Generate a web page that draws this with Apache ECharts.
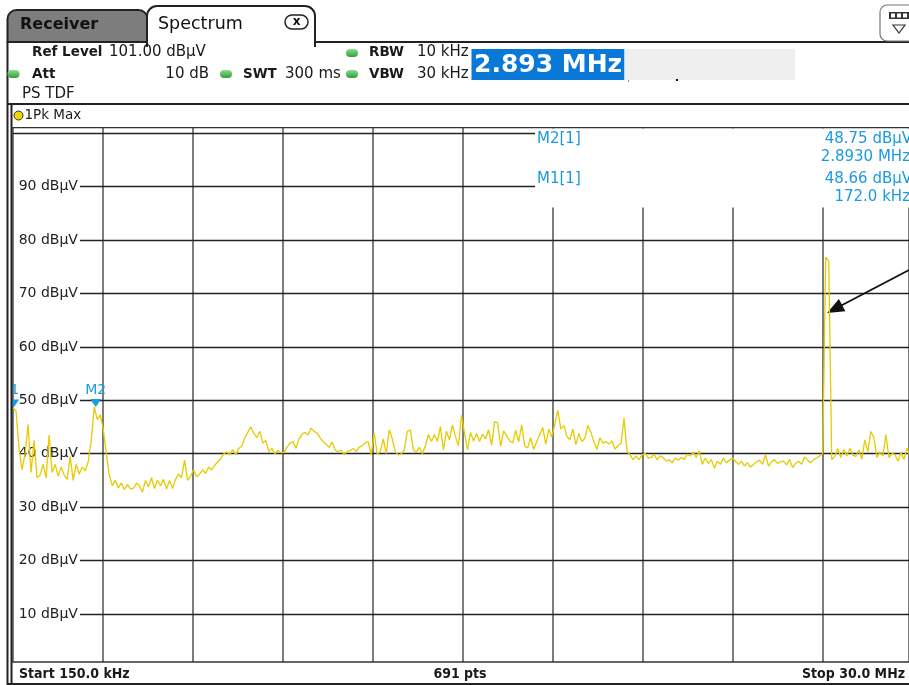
<!DOCTYPE html>
<html>
<head>
<meta charset="utf-8">
<script src="https://cdn.jsdelivr.net/npm/echarts@6/dist/echarts.min.js"></script>
<style>
  html, body { margin: 0; padding: 0; background: #fff; }
  #chart { width: 909px; height: 685px; }
</style>
</head>
<body>
<div id="chart"></div>
<script>
// sweep: 150 kHz .. 30 MHz, trace (dBµV)
const startMHz = 0.15;
const stopMHz = 30.0;
const levels = [
  48.6, 48.0, 41, 37, 40, 45.5, 36.5, 42.5, 35.5, 36,
  38, 35.5, 43.5, 36.5, 38, 35.8, 37.5, 36, 35.2, 39.5,
  35, 38, 36.2, 37.5, 36.8, 38.5, 42.5, 48.75, 46.4, 47.3,
  44.5, 40, 36, 34, 35, 33.6, 34.5, 33.3, 34.2, 33.4,
  33.5, 34.5, 34, 32.8, 35, 33.8, 35.5, 33.5, 35, 34,
  35.2, 33.4, 35, 33.5, 35.2, 36.2, 35.5, 38.8, 35, 35.8,
  37, 35.7, 36.2, 37, 36.3, 37.5, 37, 37.8, 38.5, 39,
  40, 40.3, 39.8, 40.8, 39.8, 41, 41.4, 43, 44, 45,
  43.8, 43, 44.2, 42, 42.5, 40.4, 41, 40, 40.6, 40.2,
  40.2, 41.2, 42, 42.3, 41, 42.8, 43.6, 44, 43.5, 44.8,
  44.2, 43.9, 43, 42.3, 41.8, 41.2, 42.2, 40.7, 40.4, 40.7,
  39.8, 40.4, 40.6, 41, 40.4, 41.2, 41.5, 42, 42.3, 39.8,
  43.9, 40, 40.3, 42.8, 40, 44.5, 42.8, 40.3, 39.8, 40,
  40.7, 44.2, 44.5, 40.7, 40.3, 41.2, 40, 41.5, 43.6, 42.3,
  43.6, 42.3, 45.1, 40.7, 44.2, 42.6, 45.4, 43.2, 41.5, 47.2,
  43.9, 40.7, 44, 42.4, 43.8, 42.3, 43.7, 42.8, 44.5, 41.6,
  46, 45.8, 41.4, 44.3, 43.4, 42.4, 42, 44.4, 42.2, 45.4,
  41.4, 41.1, 43, 40.8, 42.3, 43.6, 44.9, 41.8, 44.6, 43.1,
  45.5, 48.1, 44.6, 45.3, 43.3, 42.6, 44.6, 41.7, 43.8, 42.3,
  42.9, 45.3, 44, 42.2, 40.8, 43, 42, 42.3, 41.8, 42.4,
  40.9, 41.5, 41.9, 46.7, 40.4, 39.8, 38.9, 39.6, 38.9, 39.8,
  40.1, 39.2, 39.3, 39.9, 38.9, 39.6, 39.3, 38.6, 38.9, 38.3,
  39.2, 38.8, 39.3, 38.9, 39.9, 39.6, 40.3, 39.3, 40.6, 38,
  39.2, 38.2, 38.9, 37.3, 38.6, 38, 39.2, 38.3, 38.8, 39.2,
  38.6, 38, 38.6, 37.7, 38.3, 37.5, 38, 38.5, 38.8, 38,
  39.8, 37.7, 38.5, 38.9, 38.2, 38.5, 38.6, 37.9, 38.9, 37.4,
  38.2, 38.6, 38, 39.4, 38.8, 38.3, 38.9, 39.2, 39.6, 40,
  76.8, 76.1, 38.9, 39.5, 41, 39.3, 40.8, 39.6, 41, 39.8,
  39.5, 40.7, 39, 42.6, 40.4, 44.2, 43, 39.3, 40.3, 39.6,
  43.6, 39.3, 40, 39.9, 38.6, 40.2, 38.9, 41.1, 39.5, 39.8
];
const gridLevels = [100, 90, 80, 70, 60, 50, 40, 30, 20, 10];
const markers = [
  { name: 'M1', freq: 0.172, level: 48.66 },
  { name: 'M2', freq: 2.893, level: 48.75 }
];
const markerTable = [
  ['M2[1]', '48.75 dBµV', '2.8930 MHz'],
  ['M1[1]', '48.66 dBµV', '172.0 kHz']
];

const step = (stopMHz - startMHz) / (levels.length - 1);
const trace = levels.map((v, i) => [startMHz + i * step, v]);
const division = (stopMHz - startMHz) / 10;
// the screenshot is cropped a few pixels before the 30 MHz edge (896 of 900 px)
const visibleStop = startMHz + (stopMHz - startMHz) * 896 / 900;

const FONT = '"DejaVu Sans", Verdana, sans-serif';
const NARROW = '"DejaVu Sans Condensed", "Liberation Sans Narrow", sans-serif';
const BLUE = '#1a9be0';
const labelEnd = 2.37; // gridline starts right after its label

const chart = echarts.init(document.getElementById('chart'));

function txt(x, y, text, opt) {
  opt = opt || {};
  return {
    type: 'text', x: x, y: y, z: 80,
    style: {
      text: text,
      font: (opt.weight || 'normal') + ' ' + (opt.size || 15) + 'px ' + (opt.family || FONT),
      fill: opt.color || '#1a1a1a',
      textAlign: opt.align || 'left',
      textVerticalAlign: 'middle'
    }
  };
}
function hline(x1, x2, y, w, c) {
  return { type: 'line', z: 70, shape: { x1: x1, y1: y, x2: x2, y2: y }, style: { stroke: c || '#222', lineWidth: w || 2 } };
}
function vline(x, y1, y2, w, c) {
  return { type: 'line', z: 70, shape: { x1: x, y1: y1, x2: x, y2: y2 }, style: { stroke: c || '#222', lineWidth: w || 2 } };
}
function led(x, y) {
  return {
    type: 'rect', z: 80, shape: { x: x - 6, y: y - 4, width: 12, height: 8, r: 4 },
    style: { fill: new echarts.graphic.LinearGradient(0, 0, 0, 1, [
      { offset: 0, color: '#8fdc8f' }, { offset: 1, color: '#2e9e3a' }]) }
  };
}

const graphics = [
  // cover behind marker table and left margin
  { type: 'rect', z: 50, shape: { x: 535, y: 128.6, width: 380, height: 79 }, style: { fill: '#fff' } },
  { type: 'rect', z: 50, shape: { x: 0, y: 105, width: 11, height: 580 }, style: { fill: '#fff' } },

  // tabs
  { type: 'rect', z: 60, shape: { x: 7.5, y: 10, width: 140, height: 32, r: [9, 9, 0, 0] },
    style: { fill: '#7d7d7d', stroke: '#222', lineWidth: 2 } },
  { type: 'rect', z: 61, shape: { x: 147, y: 6, width: 168, height: 40, r: [10, 10, 0, 0] },
    style: { fill: '#fff', stroke: '#222', lineWidth: 2 } },
  { type: 'rect', z: 62, shape: { x: 148, y: 41, width: 166, height: 8 }, style: { fill: '#fff' } },
  hline(314, 909, 42, 2),
  txt(20, 25, 'Receiver', { weight: 'bold', size: 16, color: '#111' }),
  txt(158, 24, 'Spectrum', { size: 17.5, color: '#111' }),
  { type: 'rect', z: 80, shape: { x: 285, y: 15, width: 23, height: 14, r: 7 },
    style: { fill: '#fff', stroke: '#222', lineWidth: 1.5 } },
  txt(296.5, 21.5, 'x', { weight: 'bold', size: 12, align: 'center', color: '#111' }),

  // top-right softkey icon
  { type: 'rect', z: 80, shape: { x: 880, y: 5, width: 36, height: 36, r: 7 },
    style: { fill: '#fff', stroke: '#777', lineWidth: 1.2 } },
  { type: 'rect', z: 81, shape: { x: 889, y: 12, width: 22, height: 7 }, style: { fill: '#333' } },
  { type: 'rect', z: 82, shape: { x: 891, y: 13.5, width: 4, height: 4 }, style: { fill: '#fff' } },
  { type: 'rect', z: 82, shape: { x: 897, y: 13.5, width: 4, height: 4 }, style: { fill: '#fff' } },
  { type: 'rect', z: 82, shape: { x: 903, y: 13.5, width: 4, height: 4 }, style: { fill: '#fff' } },
  { type: 'polygon', z: 81, shape: { points: [[893, 25], [905, 25], [899, 33]] },
    style: { fill: '#fff', stroke: '#333', lineWidth: 1.2 } },

  // header
  txt(32, 52, 'Ref Level', { weight: 'bold', size: 13.5 }),
  txt(109, 52, '101.00 dBµV'),
  led(352, 53), txt(369, 52, 'RBW', { weight: 'bold', size: 13.5 }), txt(417, 52, '10 kHz'),
  led(13.5, 74), txt(32, 74, 'Att', { weight: 'bold', size: 13.5 }),
  txt(209, 74, '10 dB', { align: 'right' }),
  led(226, 74), txt(243, 74, 'SWT', { weight: 'bold', size: 13.5 }), txt(285, 74, '300 ms'),
  led(352, 74), txt(369, 74, 'VBW', { weight: 'bold', size: 13.5 }), txt(417, 74, '30 kHz'),
  txt(22, 94, 'PS TDF'),
  { type: 'rect', z: 80, shape: { x: 471.5, y: 49, width: 153, height: 31 }, style: { fill: '#0a78d7' } },
  { type: 'rect', z: 80, shape: { x: 624.5, y: 49, width: 170.5, height: 31 }, style: { fill: '#efefef' } },
  txt(474, 65, '2.893 MHz', { weight: 'bold', size: 25, color: '#fff' }),
  { type: 'rect', z: 80, shape: { x: 628, y: 80, width: 1, height: 2 }, style: { fill: '#888' } },
  { type: 'rect', z: 80, shape: { x: 676, y: 79, width: 2, height: 2 }, style: { fill: '#111' } },

  // frame lines
  hline(7, 909, 104, 2),
  vline(7.5, 42, 685, 2),
  vline(11.5, 104, 685, 2),
  hline(11, 909, 127.6, 1.3, '#333'),
  hline(11, 909, 662, 1.5, '#333'),
  hline(7, 909, 684, 2),

  // trace label row
  { type: 'circle', z: 80, shape: { cx: 18.5, cy: 115.5, r: 4.5 }, style: { fill: '#f2d600', stroke: '#333', lineWidth: 1 } },
  txt(24.5, 115, '1Pk Max', { size: 13.5 }),

  // footer
  txt(19, 674, 'Start 150.0 kHz', { size: 14, weight: 'bold', family: NARROW }),
  txt(460, 674, '691 pts', { size: 14, weight: 'bold', align: 'center', family: NARROW }),
  txt(905, 674, 'Stop 30.0 MHz', { size: 14, weight: 'bold', align: 'right', family: NARROW })
];

// marker table
markerTable.forEach((row, k) => {
  const y0 = 139 + k * 40;
  graphics.push(txt(537, y0, row[0], { color: BLUE }));
  graphics.push(txt(912, y0, row[1], { color: BLUE, align: 'right' }));
  graphics.push(txt(910, y0 + 18, row[2], { color: BLUE, align: 'right' }));
});

chart.setOption({
  animation: false,
  backgroundColor: '#fff',
  grid: { left: 13, right: 0, top: 128, height: 534 },
  xAxis: {
    type: 'value', min: startMHz, max: visibleStop, interval: division,
    axisLabel: { show: false }, axisTick: { show: false }, axisLine: { show: false },
    splitLine: { show: true, lineStyle: { color: '#5c5c5c', width: 1.6 } }
  },
  yAxis: {
    type: 'value', min: 1, max: 101,
    axisLabel: { show: false }, axisTick: { show: false }, axisLine: { show: false },
    splitLine: { show: false }
  },
  series: [{
    type: 'line',
    data: trace,
    showSymbol: false,
    clip: true,
    z: 5,
    lineStyle: { color: '#e6cb00', width: 1.3 },
    markLine: {
      silent: true,
      symbol: ['none', 'none'],
      lineStyle: { color: '#222', width: 1.3, type: 'solid' },
      label: {
        show: true, position: 'start', distance: 2,
        formatter: p => p.name, color: '#222', fontSize: 14, fontFamily: FONT
      },
      emphasis: { disabled: true },
      data: gridLevels.map(v => [
        { name: v === 100 ? '' : v + ' dBµV', coord: [v === 100 ? startMHz : labelEnd, v] },
        { coord: [visibleStop, v] }
      ]).concat([[
        { name: '', coord: [visibleStop, 74.4],
          lineStyle: { color: '#111', width: 1.8 }, label: { show: false } },
        { coord: [27.4, 67.1], symbol: 'triangle', symbolSize: [14, 17] }
      ]])
    },
    markPoint: {
      silent: true,
      symbol: 'triangle',
      symbolRotate: 180,
      symbolSize: [11, 8],
      symbolOffset: [0, -4],
      itemStyle: { color: BLUE },
      label: { show: true, position: 'top', distance: 2, formatter: '{b}', color: BLUE, fontSize: 14, fontFamily: FONT },
      data: markers.map(m => ({
        name: m.name, coord: [m.freq, m.level], value: m.level,
        label: m.name === 'M1' ? { offset: [-5, 0] } : {}
      }))
    }
  }],
  graphic: { elements: graphics }
});
</script>
</body>
</html>
